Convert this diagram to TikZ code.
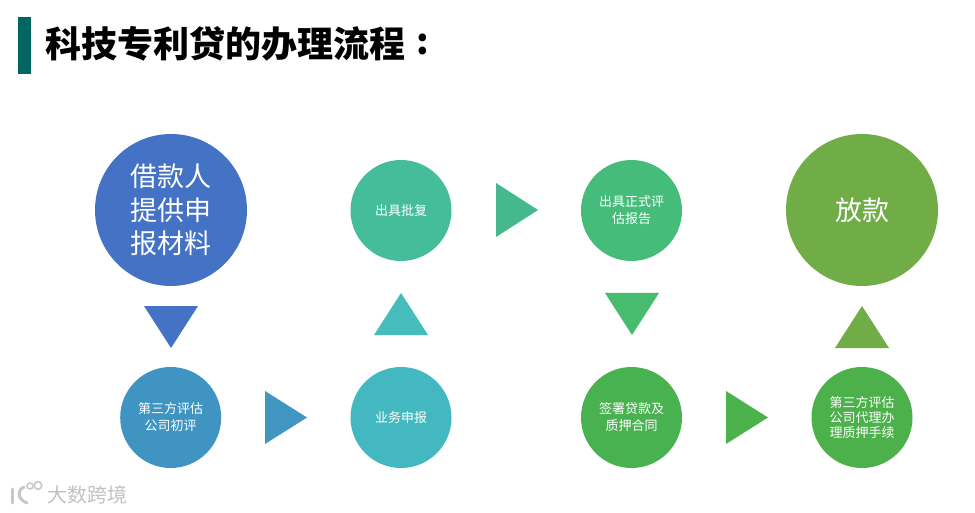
\documentclass[tikz,border=0pt]{standalone}
\usepackage{fontspec}
\setmainfont{Noto Sans CJK SC}
\begin{document}
\begin{tikzpicture}[x=1pt,y=-1pt,
  bigc/.style={circle,inner sep=0pt,minimum size=152pt,text=white,font=\fontsize{27}{33.5}\selectfont,align=center},
  smallc/.style={circle,inner sep=0pt,minimum size=101pt,text=white,font=\fontsize{13}{17}\selectfont,align=center},
  wm/.style={text=black!24,font=\fontsize{20}{20}\selectfont}]
\useasboundingbox (0,0) rectangle (975,513);
\fill[white] (0,0) rectangle (975,513);
% title
\fill[fill={rgb,255:red,0;green,102;blue,95}] (18,17) rectangle (31,74);
\node[anchor=west,inner sep=0pt,font=\fontsize{36}{36}\selectfont\bfseries] (title) at (45,44) {科技专利贷的办理流程};
\node[inner sep=0pt,font=\fontsize{36}{36}\selectfont\bfseries] (colon) at (423,44) {:};
% circles
\node[bigc,fill={rgb,255:red,68;green,114;blue,196}] (a) at (171,210) {借款人\\提供申\\报材料};
\node[smallc,fill={rgb,255:red,63;green,148;blue,193}] (b) at (170.7,417.5) {第三方评估\\公司初评};
\node[smallc,fill={rgb,255:red,68;green,184;blue,192}] (c) at (401,417.5) {业务申报};
\node[smallc,fill={rgb,255:red,69;green,189;blue,155}] (d) at (401,210.5) {出具批复};
\node[smallc,fill={rgb,255:red,70;green,188;blue,122}] (e) at (631.5,210.5) {出具正式评\\估报告};
\node[smallc,fill={rgb,255:red,72;green,178;blue,80}] (f) at (631.5,417.5) {签署贷款及\\质押合同};
\node[smallc,fill={rgb,255:red,76;green,177;blue,75},font=\fontsize{13}{15}\selectfont] (g) at (862,417.5) {第三方评估\\公司代理办\\理质押手续};
\node[bigc,fill={rgb,255:red,112;green,173;blue,71}] (h) at (862,210) {放款};
% triangles
\fill[fill={rgb,255:red,68;green,114;blue,196}] (144,306) -- (198,306) -- (171,348) -- cycle;
\fill[fill={rgb,255:red,65;green,150;blue,193}] (265,391) -- (307,417.5) -- (265,444) -- cycle;
\fill[fill={rgb,255:red,68;green,189;blue,187}] (374,335) -- (428,335) -- (401,293) -- cycle;
\fill[fill={rgb,255:red,69;green,184;blue,141}] (496,183) -- (538,210) -- (496,237) -- cycle;
\fill[fill={rgb,255:red,71;green,187;blue,110}] (605,293) -- (659,293) -- (632,335) -- cycle;
\fill[fill={rgb,255:red,76;green,178;blue,75}] (726,391) -- (768,417.5) -- (726,444) -- cycle;
\fill[fill={rgb,255:red,112;green,173;blue,71}] (835,348) -- (889,348) -- (862,306) -- cycle;
% watermark
\begin{scope}[draw=black!22,line width=3pt,line cap=round,line join=round]
\draw (12,489) -- (12,503);
\draw (24,487) .. controls (17,490) and (17,499) .. (27,503);
\draw[line width=1.6pt] (30,486) circle (3);
\draw[line width=1.6pt] (38,485.5) circle (3.8);
\end{scope}
\node[wm,anchor=west,inner sep=0pt] (wmtext) at (47,495) {大数跨境};
\end{tikzpicture}
\end{document}
